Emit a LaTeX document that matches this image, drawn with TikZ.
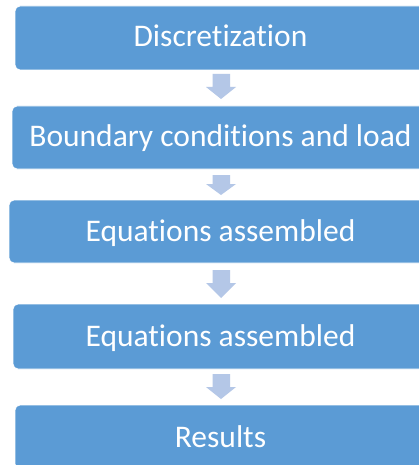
\documentclass[tikz,border=0pt]{standalone}
\usepackage{fontspec}
\setmainfont{Carlito}[Ligatures={NoCommon}]
\definecolor{boxblue}{HTML}{5B9BD5}
\definecolor{arrowblue}{HTML}{B4C7E7}
% down-pointing block arrow: shaft top, neck and tip heights
\newcommand\flowarrowat[3]{%
  \fill[flowarrow] (212.7,#1) -- (230,#1) -- (230,#2) -- (236,#2) -- (221,#3)
    -- (206,#2) -- (212.7,#2) -- cycle;}
\begin{document}
\begin{tikzpicture}[x=1pt,y=-1pt,
  stepbox/.style={fill=boxblue, draw=white, line width=0.8pt, rounded corners=5pt,
    inner sep=0pt, outer sep=0pt, minimum height=64pt},
  steplabel/.style={anchor=base, text=white, inner sep=0pt,
    font=\fontsize{31.5}{36}\selectfont},
  flowarrow/.style={fill=arrowblue, draw=none}]
\useasboundingbox (0,0) rectangle (419,465);
\clip (0,0) rectangle (419,465);
\fill[white] (0,0) rectangle (419,465);

% process steps
\node[stepbox, minimum width=411pt, minimum height=64pt] (s1) at (220.5,38) {};
\node[stepbox, minimum width=417pt, minimum height=63pt] (s2) at (220.5,137.5) {};
\node[stepbox, minimum width=423pt, minimum height=63pt] (s3) at (220.5,231.5) {};
\node[stepbox, minimum width=415pt, minimum height=65pt] (s4) at (220.5,336.5) {};
\node[stepbox, minimum width=411pt, minimum height=64pt] (s5) at (220.5,437) {};

\node[steplabel] (t1) at (220.5,46.7) {Discretization};
\node[steplabel] (t2) at (220.5,146.7) {Boundary conditions and load};
\node[steplabel] (t3) at (220.5,241.7) {Equations assembled};
\node[steplabel] (t4) at (220.5,346) {Equations assembled};
\node[steplabel] (t5) at (220.5,447) {Results};

% arrows between steps
\flowarrowat{74}{87}{99}
\flowarrowat{175}{184}{195}
\flowarrowat{270}{283}{298}
\flowarrowat{374}{387}{399}
\end{tikzpicture}
\end{document}
